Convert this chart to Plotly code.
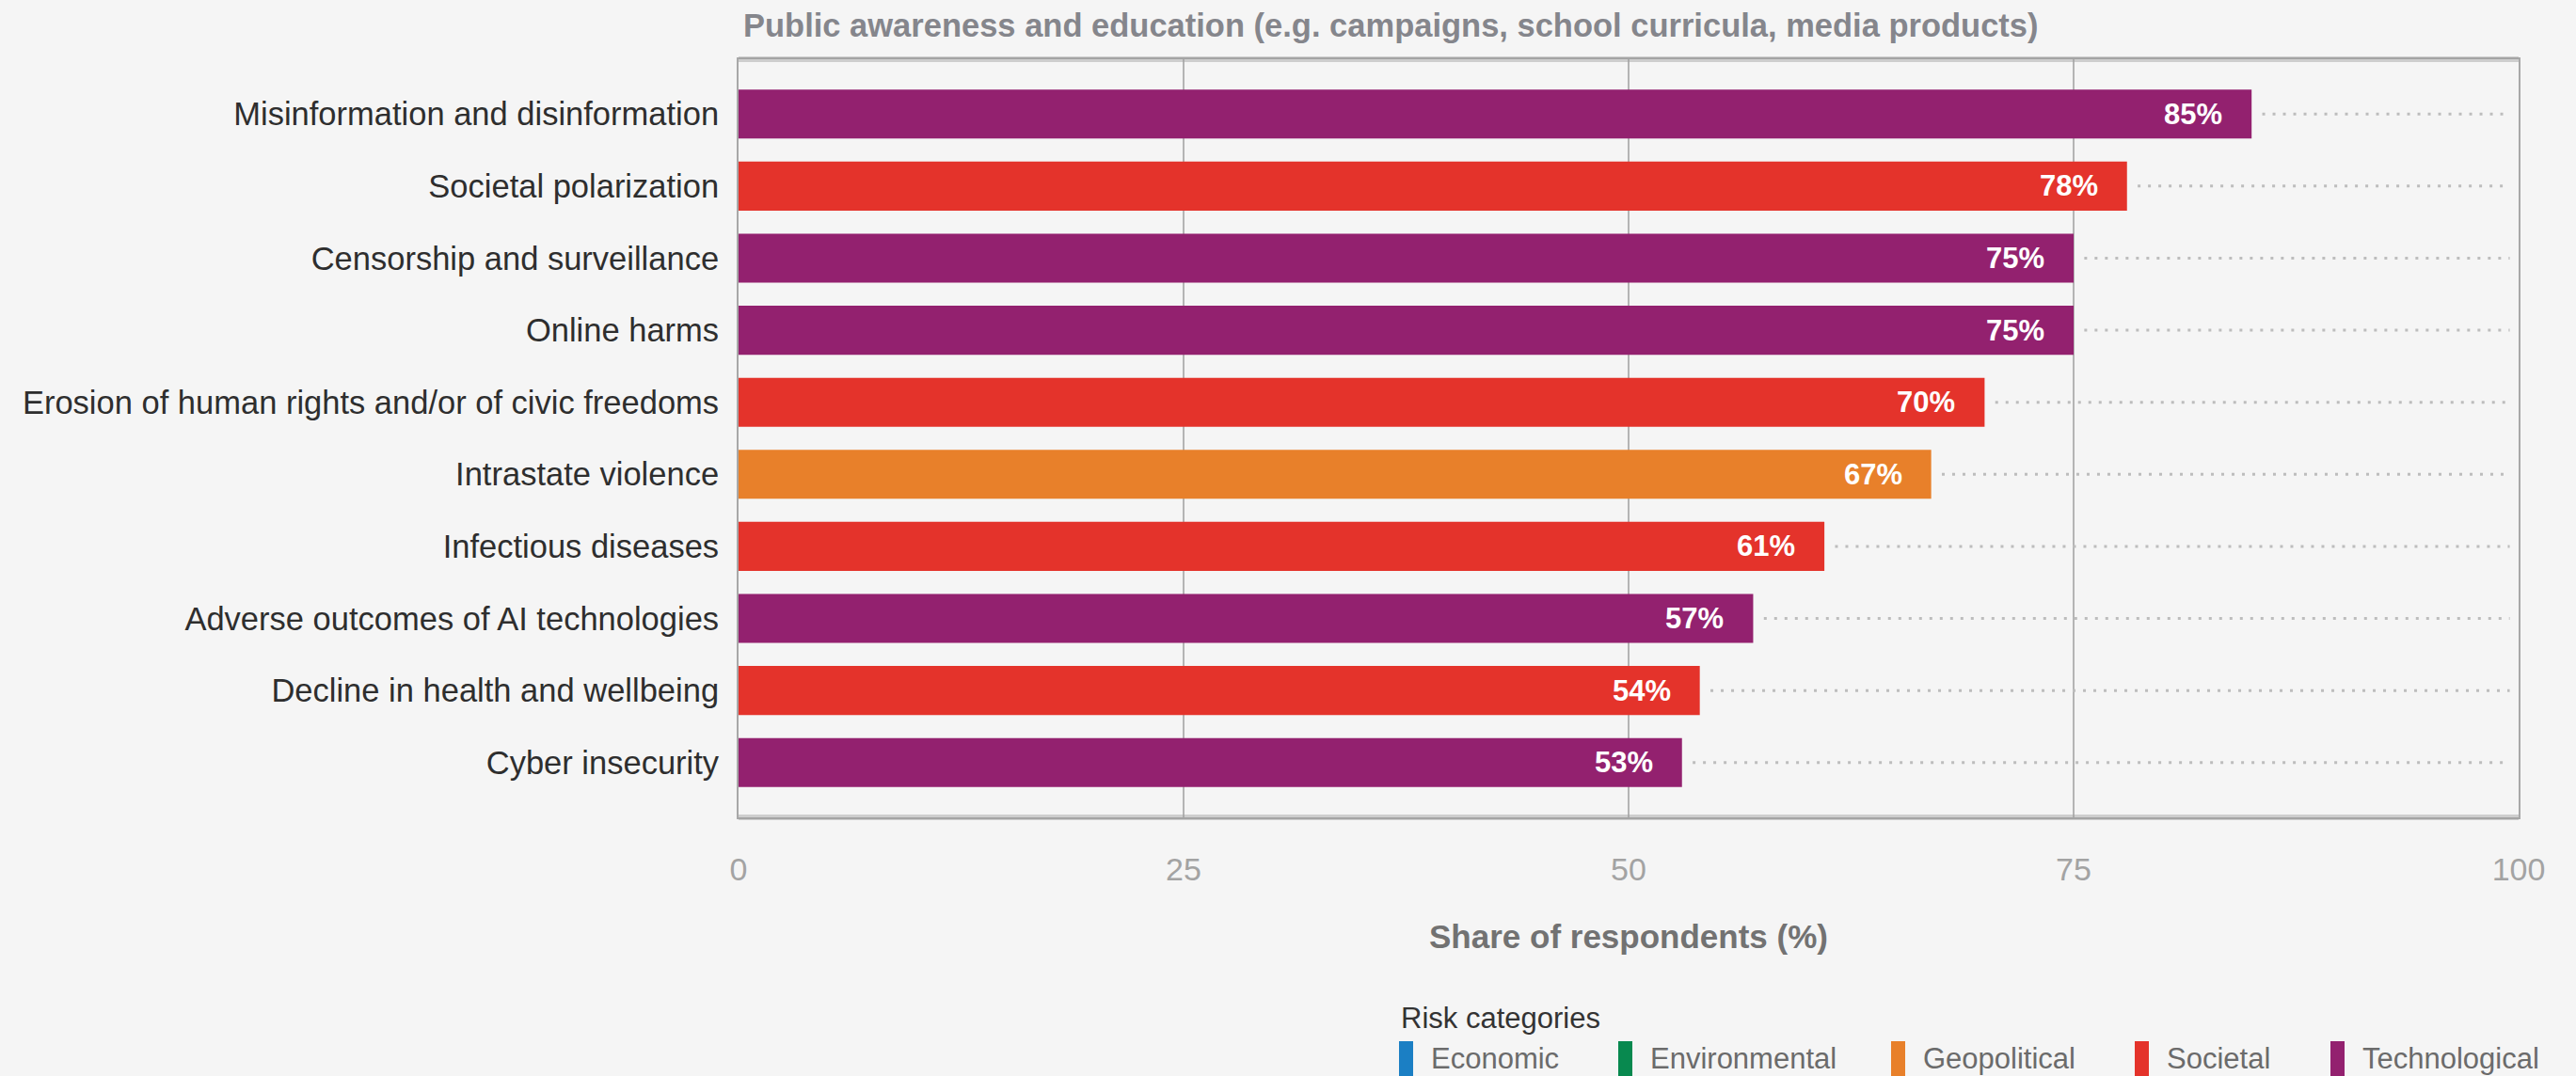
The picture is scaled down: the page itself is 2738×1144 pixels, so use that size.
import plotly.graph_objects as go

# Risks ranked by share of respondents selecting public awareness and education
risks = [
    "Misinformation and disinformation",
    "Societal polarization",
    "Censorship and surveillance",
    "Online harms",
    "Erosion of human rights and/or of civic freedoms",
    "Intrastate violence",
    "Infectious diseases",
    "Adverse outcomes of AI technologies",
    "Decline in health and wellbeing",
    "Cyber insecurity",
]
shares = [85, 78, 75, 75, 70, 67, 61, 57, 54, 53]
risk_category = [
    "Technological", "Societal", "Technological", "Technological", "Societal",
    "Geopolitical", "Societal", "Technological", "Societal", "Technological",
]

legend_categories = ["Economic", "Environmental", "Geopolitical", "Societal", "Technological"]
category_colors = {
    "Economic": "#1b7fc4",
    "Environmental": "#08894f",
    "Geopolitical": "#e8802a",
    "Societal": "#e4332b",
    "Technological": "#93216f",
}
x_ticks = [0, 25, 50, 75, 100]

chart_title = "Public awareness and education (e.g. campaigns, school curricula, media products)"
x_title = "Share of respondents (%)"
legend_title = "Risk categories"

FONT = "Liberation Sans, Arial, Helvetica, sans-serif"
BG = "#f5f5f5"

W, H = 2738, 1144
M_L, M_R, M_T, M_B = 785, 61, 63, 275
PLOT_W = W - M_L - M_R
PLOT_H = H - M_T - M_B


def px_x(px):
    return (px - M_L) / PLOT_W


def px_y(py):
    return (H - M_B - py) / PLOT_H


fig = go.Figure()

# Dotted leader lines from each bar's end to the right edge
lead_x, lead_y = [], []
for r, v in zip(risks, shares):
    lead_x += [v + 0.6, 99.5, None]
    lead_y += [r, r, None]
fig.add_trace(go.Scatter(
    x=lead_x, y=lead_y, mode="lines",
    line=dict(color="#bdbdbd", width=3, dash="3px,8px"),
    hoverinfo="skip", showlegend=False,
))

# Bars coloured by risk category
fig.add_trace(go.Bar(
    x=shares, y=risks, orientation="h",
    marker=dict(color=[category_colors[c] for c in risk_category], line=dict(width=0)),
    width=0.68, showlegend=False,
    hovertemplate="%{y}: %{x}%<extra></extra>",
))

annotations = []
# Value labels inside the bar ends
for r, v in zip(risks, shares):
    annotations.append(dict(
        x=v, y=r, xref="x", yref="y", text=f"<b>{v}%</b>",
        showarrow=False, xanchor="right", yanchor="middle", xshift=-29,
        font=dict(family=FONT, size=31, color="white"),
    ))

# Chart heading
annotations.append(dict(
    x=px_x(788), y=px_y(27), xref="paper", yref="paper",
    text=f"<b>{chart_title}</b>", showarrow=False,
    xanchor="left", yanchor="middle",
    font=dict(family=FONT, size=34.5, color="#85868c"),
))
# Axis title
annotations.append(dict(
    x=0.5, y=px_y(995), xref="paper", yref="paper",
    text=f"<b>{x_title}</b>", showarrow=False,
    xanchor="center", yanchor="middle",
    font=dict(family=FONT, size=35, color="#727272"),
))

# Legend built from the category colour table
annotations.append(dict(
    x=px_x(1487), y=px_y(1082), xref="paper", yref="paper",
    text=legend_title, showarrow=False, xanchor="left", yanchor="middle",
    font=dict(family=FONT, size=31, color="#333333"),
))
legend_marker_px = [1487, 1720, 2010, 2269, 2477]
shapes = []
for cat, mx in zip(legend_categories, legend_marker_px):
    shapes.append(dict(
        type="rect", xref="paper", yref="paper",
        x0=px_x(mx), x1=px_x(mx + 15), y0=px_y(1150), y1=px_y(1107),
        fillcolor=category_colors[cat], line=dict(width=0), layer="above",
    ))
    annotations.append(dict(
        x=px_x(mx + 32), y=px_y(1125), xref="paper", yref="paper",
        text=cat, showarrow=False, xanchor="left", yanchor="middle",
        font=dict(family=FONT, size=31, color="#6b6b6b"),
    ))

# Soft bands along the top and bottom of the frame
for yy in (0, 1):
    shapes.append(dict(
        type="line", xref="paper", yref="paper", x0=0, x1=1, y0=yy, y1=yy,
        line=dict(color="rgba(160,160,160,0.45)", width=6), layer="above",
    ))

fig.update_layout(
    width=W, height=H,
    margin=dict(l=M_L, r=M_R, t=M_T, b=M_B, pad=0),
    paper_bgcolor=BG, plot_bgcolor=BG,
    font=dict(family=FONT, color="#333333"),
    bargap=0.32,
    annotations=annotations,
    shapes=shapes,
    showlegend=False,
)
fig.update_xaxes(
    range=[0, 100], tickvals=x_ticks, ticktext=[str(t) for t in x_ticks],
    showgrid=True, gridcolor="#b4b4b4", gridwidth=2,
    zeroline=False, showline=True, mirror=True, linecolor="#a8a8a8", linewidth=2,
    ticks="", ticklabelstandoff=24,
    tickfont=dict(family=FONT, size=34, color="#a3a3a3"),
    fixedrange=True,
)
fig.update_yaxes(
    type="category", categoryorder="array", categoryarray=risks,
    range=[len(risks) - 1 + 0.76, -0.76],
    showgrid=False, zeroline=False,
    showline=True, mirror=True, linecolor="#a8a8a8", linewidth=2,
    ticks="", ticklabelstandoff=12,
    tickfont=dict(family=FONT, size=34.5, color="#2e2e2e"),
    fixedrange=True,
)

fig.write_html("out.html")
